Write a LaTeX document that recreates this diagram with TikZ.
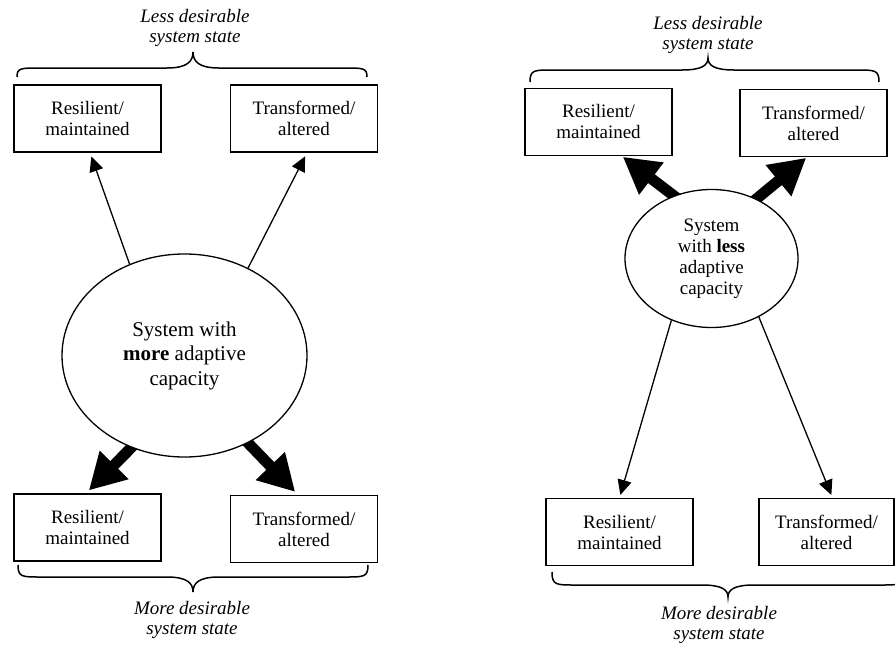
\documentclass[tikz,border=0pt]{standalone}
\usepackage{fontspec}
\setmainfont{Liberation Serif}
\usetikzlibrary{arrows.meta,shapes.geometric,backgrounds}
\newcommand\mybrace[6]{% x1 x2 xc yend yline ytip
  \draw[brc] (#1,#4) .. controls (#1,#5) and ({#1+4},#5) .. ({#1+22},#5)
    -- ({#3-26},#5) .. controls ({#3-6},#5) and (#3,{#5+0.4*(#6-#5)}) .. (#3,#6)
    .. controls (#3,{#5+0.4*(#6-#5)}) and ({#3+6},#5) .. ({#3+26},#5)
    -- ({#2-22},#5) .. controls ({#2-4},#5) and (#2,#5) .. (#2,#4);}
\begin{document}
\begin{tikzpicture}[x=1pt,y=-1pt,
  box/.style={draw, line width=1.4pt, minimum width=147pt, minimum height=67pt,
    inner sep=0pt, align=center, font=\fontsize{19}{21}\selectfont},
  ell/.style={draw, ellipse, fill=white, line width=1.3pt, inner sep=0pt, align=center},
  thinarr/.style={line width=1.3pt, -{Triangle[length=15pt,width=14pt]}},
  thickarr/.style={line width=11pt, -{Triangle[length=36pt,width=38pt]}, shorten <=-8pt},
  brc/.style={line width=1.5pt},
  lbl/.style={align=center, inner sep=0pt, font=\fontsize{19}{20}\selectfont\itshape}]
\useasboundingbox (0,0) rectangle (895,645);

% left diagram
\node[box] (A1) at (87.5,118.5) {Resilient/\\maintained};
\node[box] (A2) at (304,118.5) {Transformed/\\altered};
\node[box] (A3) at (87.5,527.5) {Resilient/\\maintained};
\node[box] (A4) at (304,529) {Transformed/\\altered};
\node[ell, minimum width=245pt, minimum height=203pt,
  font=\fontsize{21}{24.5}\selectfont] (E1) at (184.5,355.5)
  {System with\\\textbf{more} adaptive\\capacity};

% right diagram
\node[box] (B1) at (598.5,122) {Resilient/\\maintained};
\node[box] (B2) at (813.5,123) {Transformed/\\altered};
\node[box] (B3) at (619.5,532) {Resilient/\\maintained};
\node[box, minimum width=135pt] (B4) at (826.5,532) {Transformed/\\altered};
\node[ell, minimum width=173pt, minimum height=138pt,
  font=\fontsize{19}{21}\selectfont] (E2) at (711.5,258.5)
  {System\\with \textbf{less}\\adaptive\\capacity};

\begin{scope}[on background layer]
  \draw[thinarr, shorten >=4pt] (E1.121) -- ([xshift=2.5pt]A1.south);
  \draw[thinarr, shorten >=4pt] (E1.54) -- ([xshift=3pt]A2.south);
  \draw[thickarr, shorten >=4pt] (E1.240) -- ([xshift=-1.5pt]A3.north);
  \draw[thickarr, shorten >=4pt] (E1.306) -- ([xshift=-6pt]A4.north);
  \draw[thickarr, shorten >=1pt] (E2.121) -- ([xshift=23.5pt]B1.south);
  \draw[thickarr, shorten >=1pt] (E2.53) -- ([xshift=-6.5pt]B2.south);
  \draw[thinarr, shorten >=3pt] (E2.237) -- (B3.north);
  \draw[thinarr, shorten >=3pt] (E2.309) -- ([xshift=6pt]B4.north);
\end{scope}

% braces
\mybrace{17}{367}{193}{77}{68}{52}
\mybrace{18}{368}{193}{565}{577}{592}
\mybrace{530}{879}{708}{82}{70}{58}
\mybrace{552}{904}{728}{572}{585}{597}

% labels
\node[lbl] (L1) at (195,27.5) {Less desirable\\system state};
\node[lbl] (L2) at (192,620) {More desirable\\system state};
\node[lbl] (L3) at (708,35) {Less desirable\\system state};
\node[lbl] (L4) at (719,625) {More desirable\\system state};
\end{tikzpicture}
\end{document}
